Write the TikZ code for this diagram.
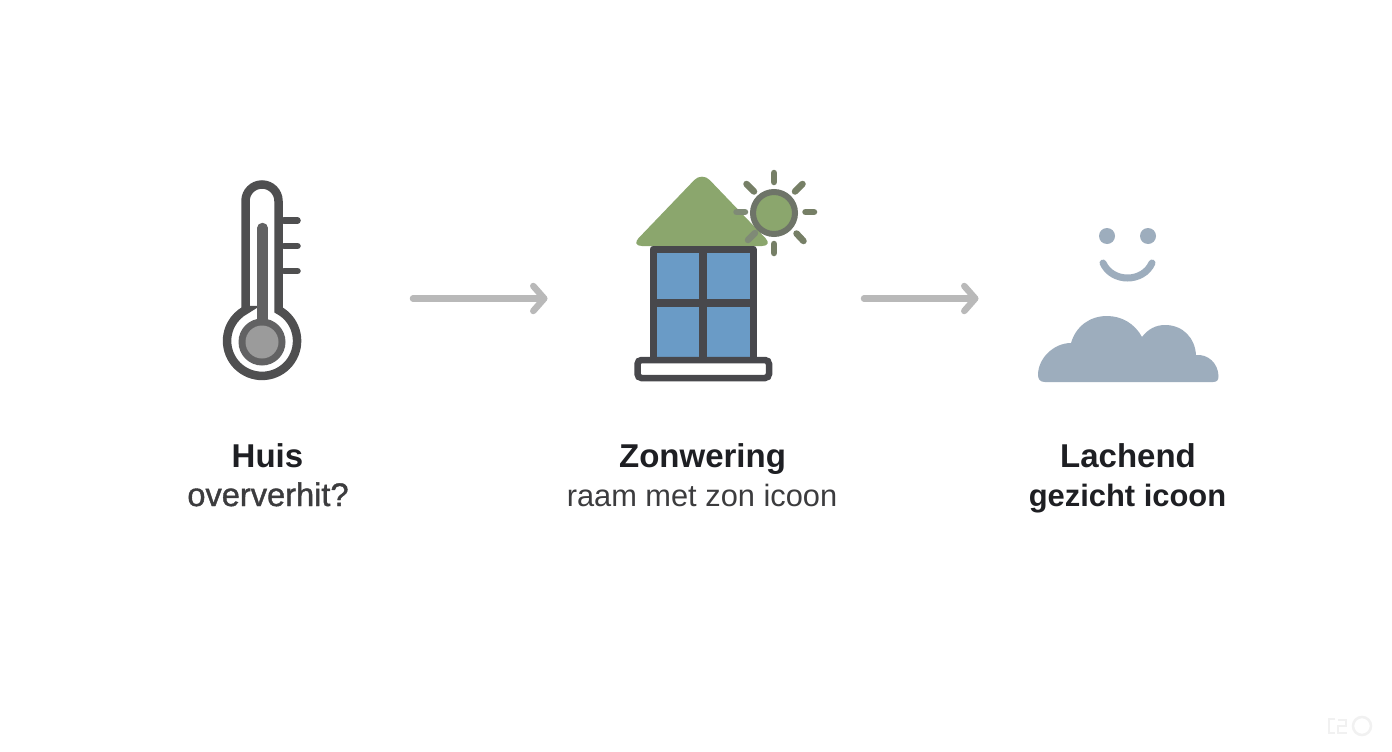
\documentclass[tikz,border=0pt]{standalone}
\usepackage{fontspec}
\setmainfont{Liberation Sans}
\newfontfamily\medfont[FakeBold=1.2]{Liberation Sans}
\usetikzlibrary{arrows.meta}
\definecolor{ink}{HTML}{1E1F23}
\definecolor{inkmid}{HTML}{3C3C3E}
\definecolor{thermo}{HTML}{4F4F50}
\definecolor{stem}{HTML}{626263}
\definecolor{bulb}{HTML}{9B9B9B}
\definecolor{roof}{HTML}{8BA66D}
\definecolor{frame}{HTML}{48484C}
\definecolor{pane}{HTML}{6A9BC6}
\definecolor{sunring}{HTML}{6E7468}
\definecolor{sunray}{HTML}{767F66}
\definecolor{sunrayb}{HTML}{7F8A76}
\definecolor{cloud}{HTML}{9DADBD}
\definecolor{flow}{HTML}{B9B9B9}
\definecolor{faintmark}{HTML}{F1F1F1}
\tikzset{
  x=1pt,y=-1pt,
  thermoline/.style={draw=thermo,line width=8.5pt,line cap=round,line join=miter},
  ticks/.style={draw=thermo,line width=6.5pt,line cap=round},
  rayline/.style={draw=sunray,line width=6.5pt,line cap=round},
  flowarrow/.style={draw=flow,line width=6.5pt,line cap=round,line join=round,-{Straight Barb[length=11pt,width=25pt,line width=6.5pt,round]}},
  title/.style={font=\fontsize{33}{33}\selectfont\bfseries,text=ink,anchor=base,inner sep=0pt},
  sub/.style={font=\fontsize{30.8}{31}\selectfont,text=inkmid,anchor=base,inner sep=0pt},
  faintline/.style={draw=faintmark,line width=2.5pt},
}
\begin{document}
\begin{tikzpicture}
\useasboundingbox (0,0) rectangle (1392,752);
\fill[white] (0,0) rectangle (1392,752);
% thermometer
\draw[thermoline,fill=white] (245.5,310) -- (245.5,201) arc[start angle=180,end angle=0,radius=16.5pt] -- (278.5,310)
  arc[start angle=62,end angle=-242,radius=35pt] -- cycle;
\draw[draw=stem,line width=10.5pt,line cap=round] (262.5,228) -- (262.5,325);
\fill[stem] (262,342) circle[radius=23.5pt];
\fill[bulb] (262,342) circle[radius=16.5pt];
\draw[ticks] (284,220.5) -- (297.5,220.5);
\draw[ticks] (284,246) -- (297.5,246);
\draw[ticks] (284,271) -- (297.5,271);
% house
\fill[roof,rounded corners=11pt] (702,172) -- (631,246) -- (773,246) -- cycle;
\fill[pane] (653,249) rectangle (753,360);
\draw[frame,line width=7pt,line join=round] (653,249) rectangle (753,360);
\draw[frame,line width=7.5pt] (703,249) -- (703,360);
\draw[frame,line width=8pt] (653,303) -- (753,303);
\draw[frame,line width=6.5pt,fill=white,rounded corners=4pt] (637.5,360) rectangle (769,378);
% sun
\draw[sunring,line width=6pt,fill=roof] (774,213) circle[radius=21pt];
\draw[rayline] (774,173) -- (774,182);
\draw[rayline] (774,244) -- (774,253);
\draw[rayline] (805.5,212) -- (814,212);
\draw[rayline] (746.5,184) -- (754,191.5);
\draw[rayline] (802.5,184) -- (795,191.5);
\draw[rayline] (796.5,233.5) -- (803.5,241);
\draw[rayline,draw=sunrayb] (736.5,212) -- (745,212);
\draw[rayline,draw=sunrayb] (755,233) -- (748,240);
% arrows
\coordinate (a1s) at (413,298.5);
\coordinate (a1e) at (547.5,298.5);
\coordinate (a2s) at (864,298.5);
\coordinate (a2e) at (978.5,298.5);
\draw[flowarrow] (a1s) -- (a1e);
\draw[flowarrow] (a2s) -- (a2e);
% smile
\fill[cloud] (1107,236) circle[radius=8pt];
\fill[cloud] (1148,236) circle[radius=8pt];
\draw[cloud,line width=7pt,line cap=round] (1103,263) .. controls (1112,283) and (1143,283) .. (1152,263);
% cloud
\fill[cloud] (1045,382) .. controls (1040,382) and (1038,379) .. (1038,375)
  .. controls (1038,358) and (1054,343) .. (1071,343)
  .. controls (1076,326) and (1090,316) .. (1107,316)
  .. controls (1122,316) and (1135,324) .. (1142,337)
  .. controls (1148,329) and (1156,325) .. (1165,325)
  .. controls (1183,325) and (1195,338) .. (1196,355)
  .. controls (1208,354) and (1218,363) .. (1218.5,376)
  .. controls (1218.5,380) and (1217,382) .. (1213,382) -- cycle;
% labels
\node[title] (t1) at (267.5,467) {Huis};
\node[sub,font=\fontsize{32.6}{33}\medfont] (s1) at (268,506) {oververhit?};
\node[title] (t2) at (702.5,467) {Zonwering};
\node[sub] (s2) at (702,506) {raam met zon icoon};
\node[title] (t3) at (1128,467) {Lachend};
\node[sub,font=\fontsize{30.9}{32}\selectfont\bfseries,text=ink] (s3) at (1127.5,506) {gezicht icoon};
% faint corner mark
\draw[faintline] (1335,719) -- (1329,719) -- (1329,733) -- (1335,733);
\draw[faintline] (1338,720) -- (1346,720) -- (1346,726) -- (1338,726) -- (1338,733) -- (1347,733);
\draw[faintline] (1362,726) circle[radius=9pt];
\end{tikzpicture}
\end{document}
